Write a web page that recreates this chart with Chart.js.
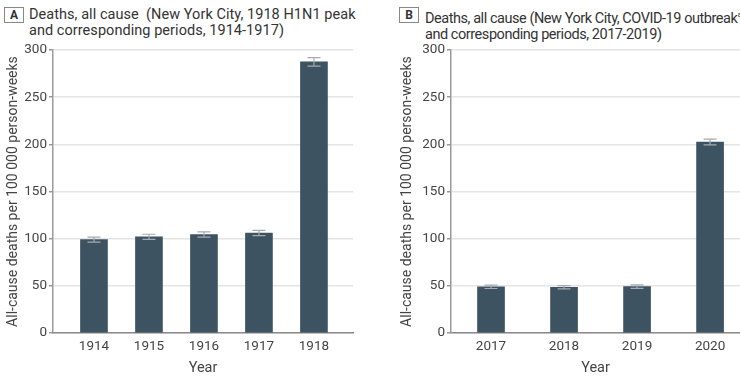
<!DOCTYPE html>
<html>
<head>
<meta charset="utf-8">
<script src="https://cdn.jsdelivr.net/npm/chart.js@4.4.1/dist/chart.umd.min.js"></script>
<style>
  body { margin: 0; background: #fff; font-family: Roboto, sans-serif; }
  #page { position: relative; width: 740px; height: 391px; overflow: hidden; }
  .head { position: absolute; top: 7px; font-size: 14.5px; line-height: 16px; color: #333; white-space: nowrap; }
  .tag { position: absolute; top: 7px; width: 20px; height: 16px; border: 1px solid #888; box-sizing: border-box;
         font-size: 12px; font-weight: bold; line-height: 14px; text-align: center; color: #333; }
  .head sup { font-size: 8px; }
  canvas { position: absolute; }
</style>
</head>
<body>
<div id="page">
  <div class="tag" style="left:4px">A</div>
  <div class="head" style="left:29px;letter-spacing:0.05px">Deaths, all cause&nbsp; (New York City, 1918 H1N1 peak<br>and corresponding periods, 1914-1917)</div>
  <div class="tag" style="left:399px">B</div>
  <div class="head" style="left:425px;letter-spacing:-0.45px">Deaths, all cause (New York City, COVID-19 outbreak<sup>a</sup><br>and corresponding periods, 2017-2019)</div>
  <div style="position:absolute;left:0;top:40px;width:370px;height:340px"><canvas id="chartA"></canvas></div>
  <div style="position:absolute;left:394px;top:40px;width:346px;height:340px"><canvas id="chartB"></canvas></div>
</div>
<script>
// Panel A: 1918 H1N1 peak vs 1914-1917
const yearsA = ['1914', '1915', '1916', '1917', '1918'];
const deathsA = [99, 102, 104.5, 106, 287.5];
const errA = [2.7, 2.7, 2.8, 2.8, 4.5];

// Panel B: COVID-19 outbreak vs 2017-2019
const yearsB = ['2017', '2018', '2019', '2020'];
const deathsB = [49, 48.5, 49.2, 202.5];
const errB = [1.8, 1.8, 1.8, 3];

const yTicks = [0, 50, 100, 150, 200, 250, 300];

const barColor = '#3e5361';
const textColor = '#444';
const font = { family: 'Roboto', size: 13.5 };

// draws error bars from the dataset's own scales
const errorBars = {
  id: 'errorBars',
  afterDatasetsDraw(chart, args, opts) {
    const ctx = chart.ctx;
    const xs = chart.scales.x, ys = chart.scales.y;
    const vals = chart.data.datasets[0].data;
    ctx.save();
    ctx.strokeStyle = '#a3abb0';
    ctx.lineWidth = 1.2;
    vals.forEach((p, i) => {
      const x = xs.getPixelForValue(p.x);
      const hi = ys.getPixelForValue(p.y + opts.err[i]);
      const lo = ys.getPixelForValue(p.y - opts.err[i]);
      ctx.beginPath();
      ctx.moveTo(x, hi); ctx.lineTo(x, lo);
      ctx.moveTo(x - 6.5, hi); ctx.lineTo(x + 6.5, hi);
      ctx.moveTo(x - 6.5, lo); ctx.lineTo(x + 6.5, lo);
      ctx.stroke();
    });
    ctx.restore();
  }
};

function makeChart(id, labels, values, errs, xMin, xMax, yWidth, rightPad) {
  return new Chart(document.getElementById(id), {
    type: 'bar',
    data: {
      datasets: [{
        data: values.map((v, i) => ({ x: i + 1, y: v })),
        backgroundColor: barColor,
        barThickness: 27
      }]
    },
    options: {
      responsive: true,
      maintainAspectRatio: false,
      animation: false,
      layout: { padding: { top: 10, right: rightPad, left: 0, bottom: 0 } },
      scales: {
        x: {
          type: 'linear',
          offset: false,
          min: xMin,
          max: xMax,
          afterBuildTicks: (scale) => { scale.ticks = labels.map((l, i) => ({ value: i + 1 })); },
          afterFit: (scale) => { scale.height = 47; },
          ticks: {
            callback: (v) => labels[v - 1],
            color: textColor,
            font,
            padding: 6,
            maxRotation: 0,
            autoSkip: false
          },
          grid: { display: false, drawTicks: false },
          border: { color: '#8a8a8a', width: 1.5 },
          title: { display: true, text: 'Year', color: textColor, font: { family: 'Roboto', size: 14.5 }, padding: { top: 2, bottom: 3 } }
        },
        y: {
          min: 0,
          max: 300,
          afterBuildTicks: (scale) => { scale.ticks = yTicks.map(v => ({ value: v })); },
          afterFit: (scale) => { scale.width = yWidth; },
          ticks: { color: textColor, font, padding: 2 },
          grid: { color: '#e4e4e4', lineWidth: 1.5, tickColor: '#999', tickLength: 4 },
          border: { color: '#9a9a9a', width: 1.5 },
          title: {
            display: true,
            text: 'All-cause deaths per 100 000 person-weeks',
            color: textColor,
            font: { family: 'Roboto', size: 14 },
            padding: { top: 5, bottom: 4 }
          }
        }
      },
      plugins: {
        legend: { display: false },
        tooltip: { enabled: false },
        errorBars: { err: errs }
      }
    },
    plugins: [errorBars]
  });
}

makeChart('chartA', yearsA, deathsA, errA, 0.255, 5.71, 53, 17);
makeChart('chartB', yearsB, deathsB, errB, 0.452, 4.41, 57, 0);
</script>
</body>
</html>
